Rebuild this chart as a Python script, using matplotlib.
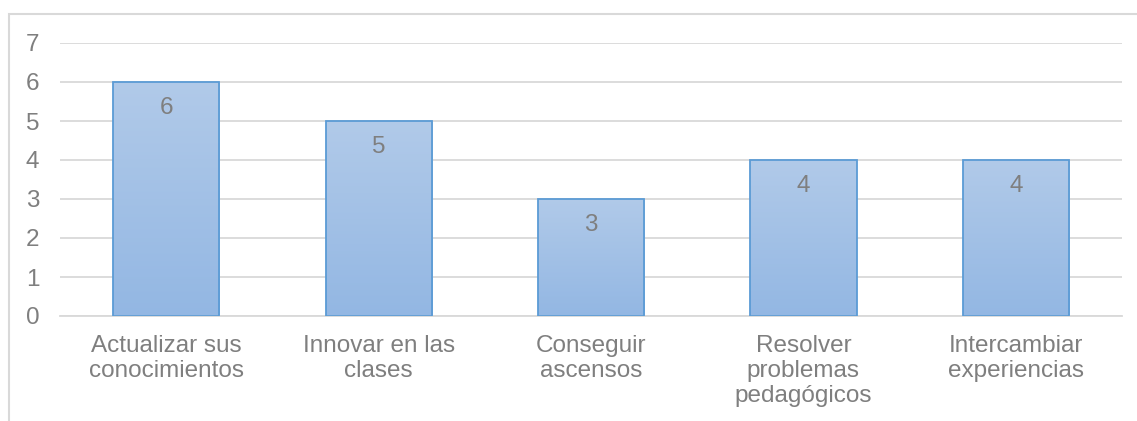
import matplotlib.pyplot as plt
from matplotlib.colors import LinearSegmentedColormap
from matplotlib.patches import Rectangle
import numpy as np

# survey answers: reasons for training
categorias = ["Actualizar sus\nconocimientos", "Innovar en las\nclases", "Conseguir\nascensos",
              "Resolver\nproblemas\npedagógicos", "Intercambiar\nexperiencias"]
valores = [6, 5, 3, 4, 4]

plt.rcParams['font.family'] = ['Liberation Sans', 'DejaVu Sans']
gris = "#7f7f7f"
rejilla = "#d9d9d9"
fs = 17.5

fig = plt.figure(figsize=(11.37, 4.21), dpi=100)
W, H = 1137, 421
ax = fig.add_axes([60 / W, 105 / H, (1122 - 60) / W, (316 - 43) / H])

# outer frame (only top and left edges fall inside the image)
fig.patches.append(Rectangle((9 / W, -0.1), 1.2, (421 - 14) / H + 0.1, transform=fig.transFigure,
                             fill=False, edgecolor=rejilla, linewidth=1.5))

x = np.arange(len(valores))
barras = ax.bar(x, valores, width=0.5, color="none", edgecolor="#5b9bd5", linewidth=1.3, zorder=3)

# vertical gradient fill inside each bar
cmap = LinearSegmentedColormap.from_list("degradado", ["#93b7e3", "#b1cae9"])
grad = np.linspace(0, 1, 256).reshape(-1, 1)
for b in barras:
    x0, w, h = b.get_x(), b.get_width(), b.get_height()
    im = ax.imshow(grad, cmap=cmap, extent=[x0, x0 + w, 0, h], origin="lower",
                   aspect="auto", zorder=2.5)
    im.set_clip_path(b)

for xi, v in zip(x, valores):
    ax.text(xi, v - 0.66, str(v), ha="center", va="center", fontsize=fs, color=gris, zorder=4)

ax.set_xlim(-0.5, len(valores) - 0.5)
ax.set_ylim(0, 7)
ax.set_yticks(range(8))
ax.set_xticks(x)
ax.set_xticklabels(categorias, fontsize=fs, color=gris, linespacing=1.17)
ax.tick_params(axis="y", labelsize=fs, labelcolor=gris, length=0, pad=15)
ax.tick_params(axis="x", length=0, pad=14)
ax.grid(axis="y", color=rejilla, linewidth=1.3, zorder=0)
for s in ["top", "right", "left"]:
    ax.spines[s].set_visible(False)
ax.spines["bottom"].set_color(rejilla)
ax.spines["bottom"].set_linewidth(1.3)
ax.set_axisbelow(True)

fig.savefig("out.png", dpi=100)
